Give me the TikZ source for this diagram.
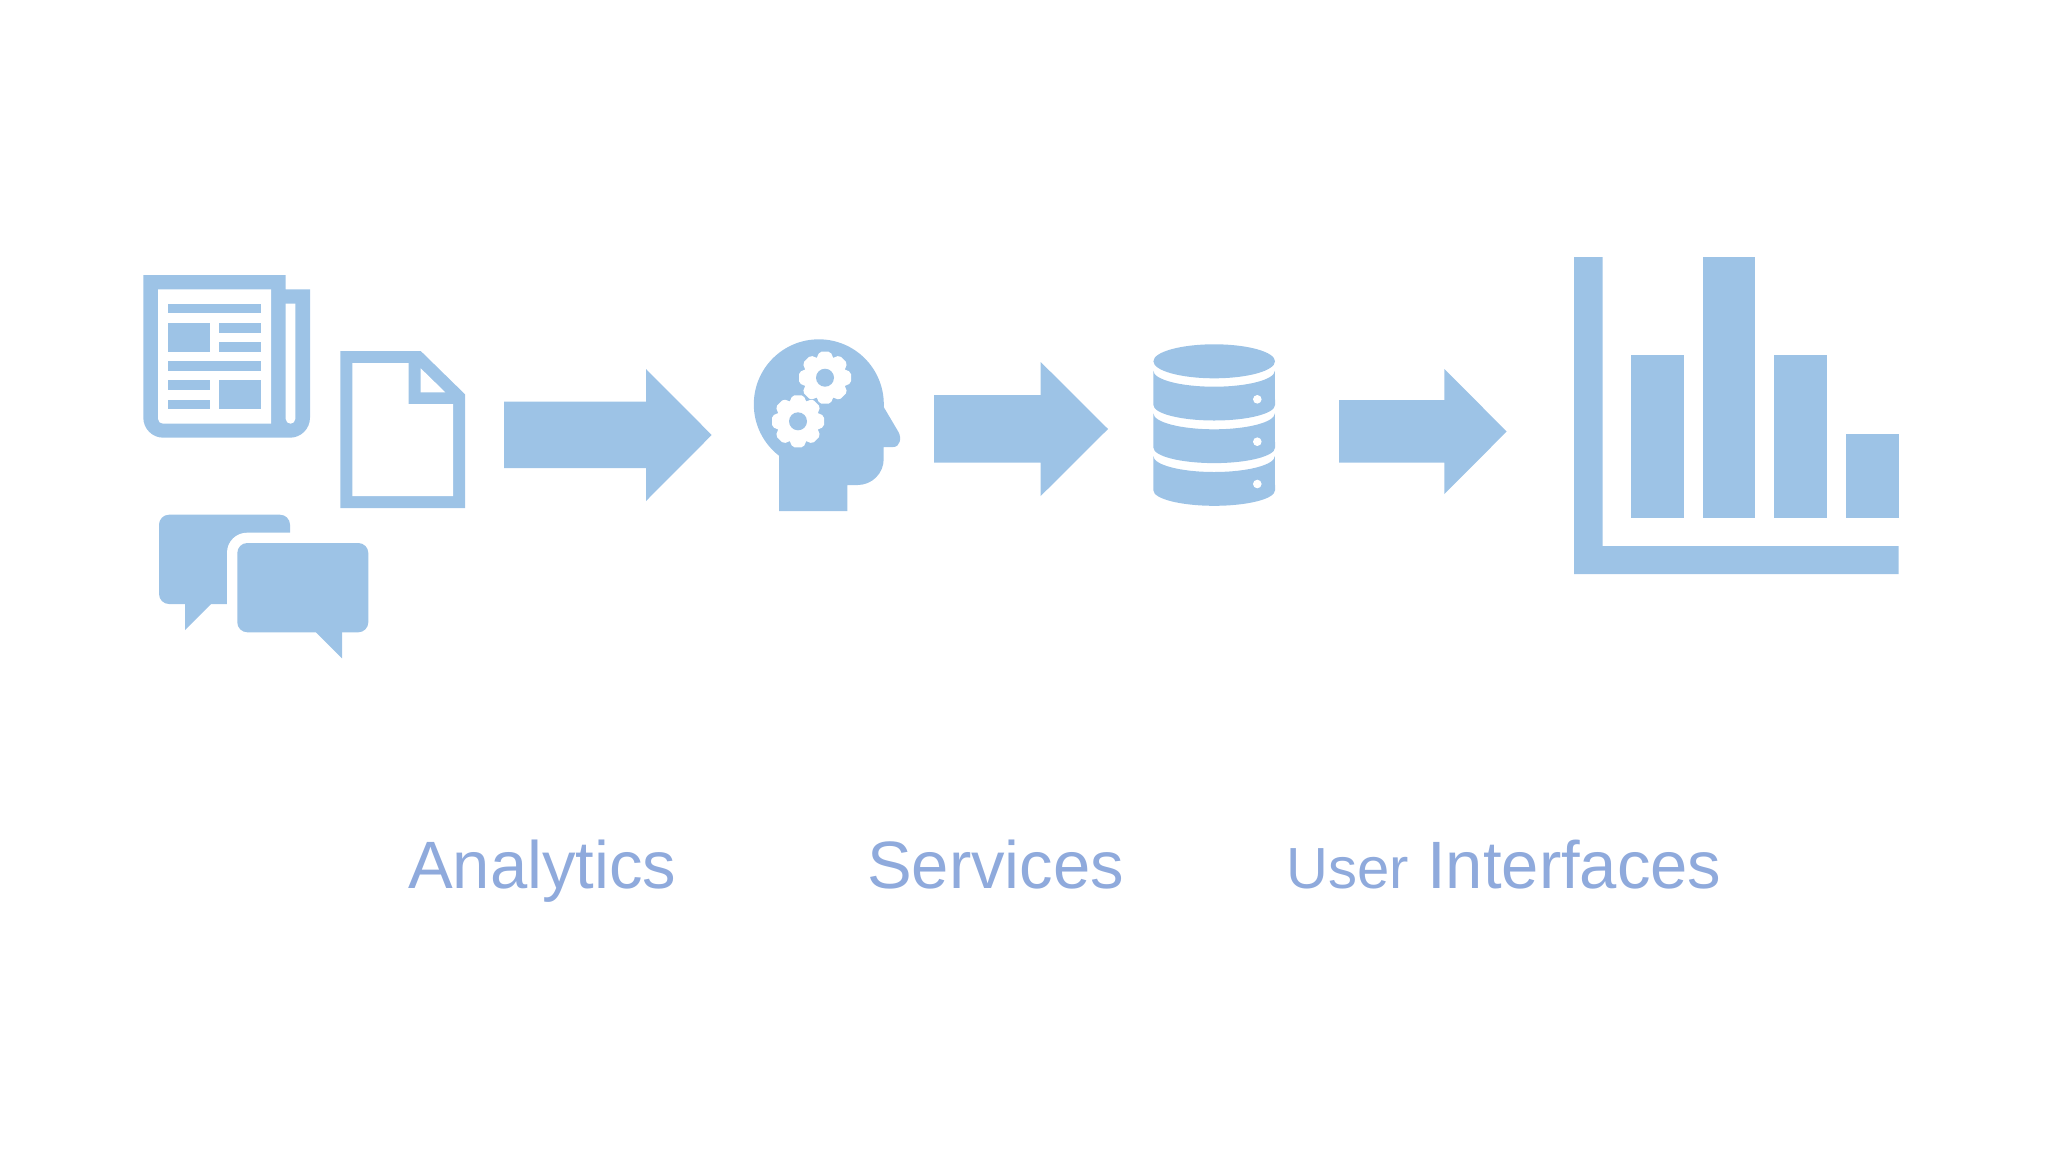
\documentclass[tikz,border=0pt]{standalone}
\usepackage{fontspec}
\setmainfont{Liberation Sans}
\definecolor{iconblue}{HTML}{9DC3E6}
\definecolor{textblue}{HTML}{8FAADC}
\tikzset{gearwheel/.pic={
    \fill[white](0,0) circle[radius=21.5];
    \foreach \a in {0,45,...,315}
        \fill[white,rotate=\a,rounded corners=2pt](18,-9)--(26,-5.5)--(26,5.5)--(18,9)--cycle;
    \fill[iconblue](0,0) circle[radius=9];
}}
\begin{document}
\begin{tikzpicture}
            [x=1pt,y=-1pt,
            ico/.style={fill=iconblue},
            hole/.style={fill=white},
            lbl/.style={text=textblue,inner sep=0pt,anchor=base west,font=\fontsize{67}{80}\selectfont}]
            \useasboundingbox (0,0) rectangle (2072,1154);
            % newspaper
            \path[ico](143.3,275)--(285.7,275)--(285.7,289.3)--(310,289.3)[rounded corners=20pt]--(310,437.7)--(143.3,437.7)[sharp corners]--cycle;
            \path[hole](158,289.3)--(271,289.3)--(271,423.7)[rounded corners=5pt]--(158,423.7)[sharp corners]--cycle;
            \path[hole](285.7,303.7)--(295.3,303.7)[rounded corners=4.8pt]--(295.3,423.7)--(285.7,423.7)[sharp corners]--cycle;
            \foreach \xa/\ya/\xb/\yb in {168/303.7/261/313.3,168/323/209.7/351.7,219.3/323/261/332.7,
                219.3/342/261/351.7,168/361.3/261/371,168/380.3/209.7/390,168/399.7/209.7/409.3,219.3/380.3/261/409.3}
                \fill[iconblue](\xa,\ya) rectangle (\xb,\yb);
            % page
            \path[ico](340.3,351)--(420.7,351)--(465,394.3)--(465,508)--(340.3,508)--cycle;
            \path[hole](352.3,363)--(408.7,363)--(408.7,404)--(453,404)--(453,496)--(352.3,496)--cycle;
            \path[hole](420.7,368.3)--(445.3,392.3)--(420.7,392.3)--cycle;
            % speech bubbles
            \path[ico,rounded corners=10pt](159,514.7) rectangle (290,604);
            \path[ico](185,600)--(211,604)--(185,630)--cycle;
            \path[hole,rounded corners=20pt](227,532.7) rectangle (330,625);
            \path[ico,rounded corners=10pt](237.3,543) rectangle (368.3,632.3);
            \path[ico](316,630)--(342,630)--(342,658.3)--(316,632.3)--cycle;
            % head
            \fill[iconblue](818.8,404.3) circle[radius=65];
            \path[ico](779,511)--(779,456)--(818,404)--(883.7,404)--(883.7,407)--(898.3,431.7) .. controls (902,438) and (900,447) .. (893.3,447)--(883.7,447)[rounded corners=26pt]--(883.7,485)[sharp corners]--(847.3,485)--(847.3,511)--cycle;
            \pic at (825,377.7) {gearwheel};
            \pic at (798,421.3) {gearwheel};
            % database
            \fill[iconblue](1214.2,361.3) ellipse[x radius=60.8,y radius=17];
            \foreach \y in {370.7,413.3,456}
                \fill[iconblue](1153.3,\y) arc[start angle=180,end angle=0,x radius=60.8,y radius=16]
                    --(1275,\y+34.3) arc[start angle=0,end angle=180,x radius=60.8,y radius=15.5]--cycle;
            \foreach \y in {399.3,441.7,484}
                \fill[white](1257.3,\y) circle[radius=4.3];
            % arrows
            \path[ico](504,401.7)--(646,401.7)--(646,369)--(711.7,435)--(646,501)--(646,468)--(504,468)--cycle;
            \path[ico](934,395)--(1040.7,395)--(1040.7,362)--(1108,429)--(1040.7,496)--(1040.7,462.7)--(934,462.7)--cycle;
            \path[ico](1339,400)--(1444.3,400)--(1444.3,369)--(1506.7,431.5)--(1444.3,494)--(1444.3,462.7)--(1339,462.7)--cycle;
            % chart
            \path[ico](1574,257)--(1602.7,257)--(1602.7,546)--(1898.7,546)--(1898.7,574)--(1574,574)--cycle;
            \foreach \xa/\ya/\xb in {1631/355/1683.7,1703/257/1755.3,1774.3/355/1827,1846/434/1898.7}
                \fill[iconblue](\xa,\ya) rectangle (\xb,517.7);
            % labels
            \node[lbl](analytics) at (408,888){Analytics};
            \node[lbl](services) at (867,888){Services};
            \node[lbl](interfaces) at (1286,888){{\fontsize{58}{70}\selectfont User} Interfaces};
        \end{tikzpicture}
\end{document}
